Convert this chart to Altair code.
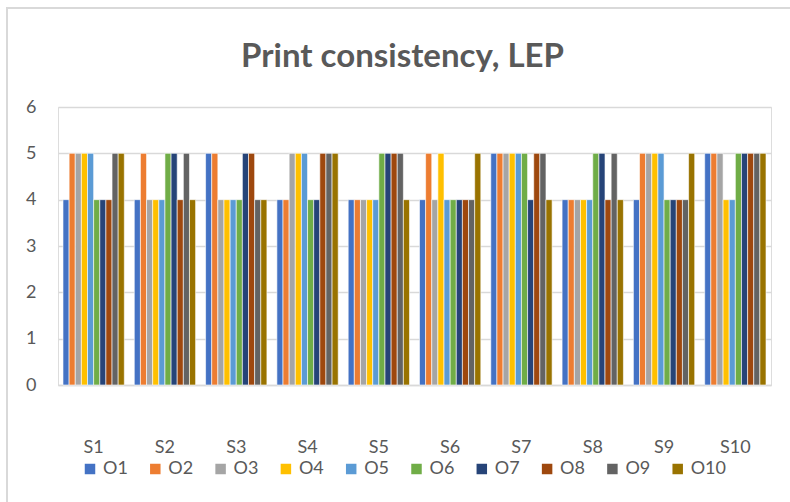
import altair as alt
import pandas as pd

samples = ["S1", "S2", "S3", "S4", "S5", "S6", "S7", "S8", "S9", "S10"]
series = ["O1", "O2", "O3", "O4", "O5", "O6", "O7", "O8", "O9", "O10"]
colors = ["#4472C4", "#ED7D31", "#A5A5A5", "#FFC000", "#5B9BD5",
          "#70AD47", "#264478", "#9E480E", "#636363", "#997300"]

# values[sample] = scores for O1..O10
values = {
    "S1":  [4, 5, 5, 5, 5, 4, 4, 4, 5, 5],
    "S2":  [4, 5, 4, 4, 4, 5, 5, 4, 5, 4],
    "S3":  [5, 5, 4, 4, 4, 4, 5, 5, 4, 4],
    "S4":  [4, 4, 5, 5, 5, 4, 4, 5, 5, 5],
    "S5":  [4, 4, 4, 4, 4, 5, 5, 5, 5, 4],
    "S6":  [4, 5, 4, 5, 4, 4, 4, 4, 4, 5],
    "S7":  [5, 5, 5, 5, 5, 5, 4, 5, 5, 4],
    "S8":  [4, 4, 4, 4, 4, 5, 5, 4, 5, 4],
    "S9":  [4, 5, 5, 5, 5, 4, 4, 4, 4, 5],
    "S10": [5, 5, 5, 4, 4, 5, 5, 5, 5, 5],
}

rows = []
for s in samples:
    for o, v in zip(series, values[s]):
        rows.append({"sample": s, "series": o, "value": v})
df = pd.DataFrame(rows)

FONT = "Lato"
GRAY = "#595959"
W, H = 713, 278

bars = alt.Chart(df).mark_bar(stroke="white", strokeWidth=0.6).encode(
    x=alt.X("sample:N", sort=samples, title=None,
            scale=alt.Scale(paddingInner=0.14, paddingOuter=0.07),
            axis=alt.Axis(labelAngle=0, labelFont=FONT, labelFontSize=18,
                          labelColor=GRAY, labelPadding=53, ticks=False,
                          domainColor="#D9D9D9", domainWidth=1.5)),
    xOffset=alt.XOffset("series:N", sort=series,
                        scale=alt.Scale(paddingInner=0, paddingOuter=0)),
    y=alt.Y("value:Q", title=None,
            scale=alt.Scale(domain=[0, 6]),
            axis=alt.Axis(values=[0, 1, 2, 3, 4, 5, 6], labelFont=FONT,
                          labelFontSize=18, labelColor=GRAY, labelPadding=22,
                          ticks=False, domain=False, gridColor="#D9D9D9",
                          gridWidth=1.3)),
    color=alt.Color("series:N", sort=series,
                    scale=alt.Scale(domain=series, range=colors),
                    legend=alt.Legend(title=None, orient="none", direction="horizontal",
                                      legendX=23, legendY=353, symbolType="square",
                                      symbolSize=110, symbolStrokeWidth=0,
                                      labelFont=FONT, labelFontSize=18,
                                      labelColor=GRAY, columnPadding=18.3,
                                      labelOffset=4, columns=10)),
)

frame = alt.Chart(df).mark_rect(fill=None, stroke="#D9D9D9", strokeWidth=1.5).encode(
    x=alt.value(-51), x2=alt.value(800), y=alt.value(-99), y2=alt.value(440)
)

chart = alt.layer(frame, bars).properties(
    width=W, height=H,
    title=alt.TitleParams("Print consistency, LEP", font=FONT, fontSize=33,
                          fontWeight="bold", color=GRAY, anchor="middle",
                          frame="group", dx=-12, offset=-67),
    autosize=alt.AutoSizeParams(type="none"),
    padding={"left": 58, "top": 107, "right": 19, "bottom": 117},
).configure_view(stroke=None).configure(background="white")

chart.save("out.html", embed_options={"renderer": "svg", "actions": False})
